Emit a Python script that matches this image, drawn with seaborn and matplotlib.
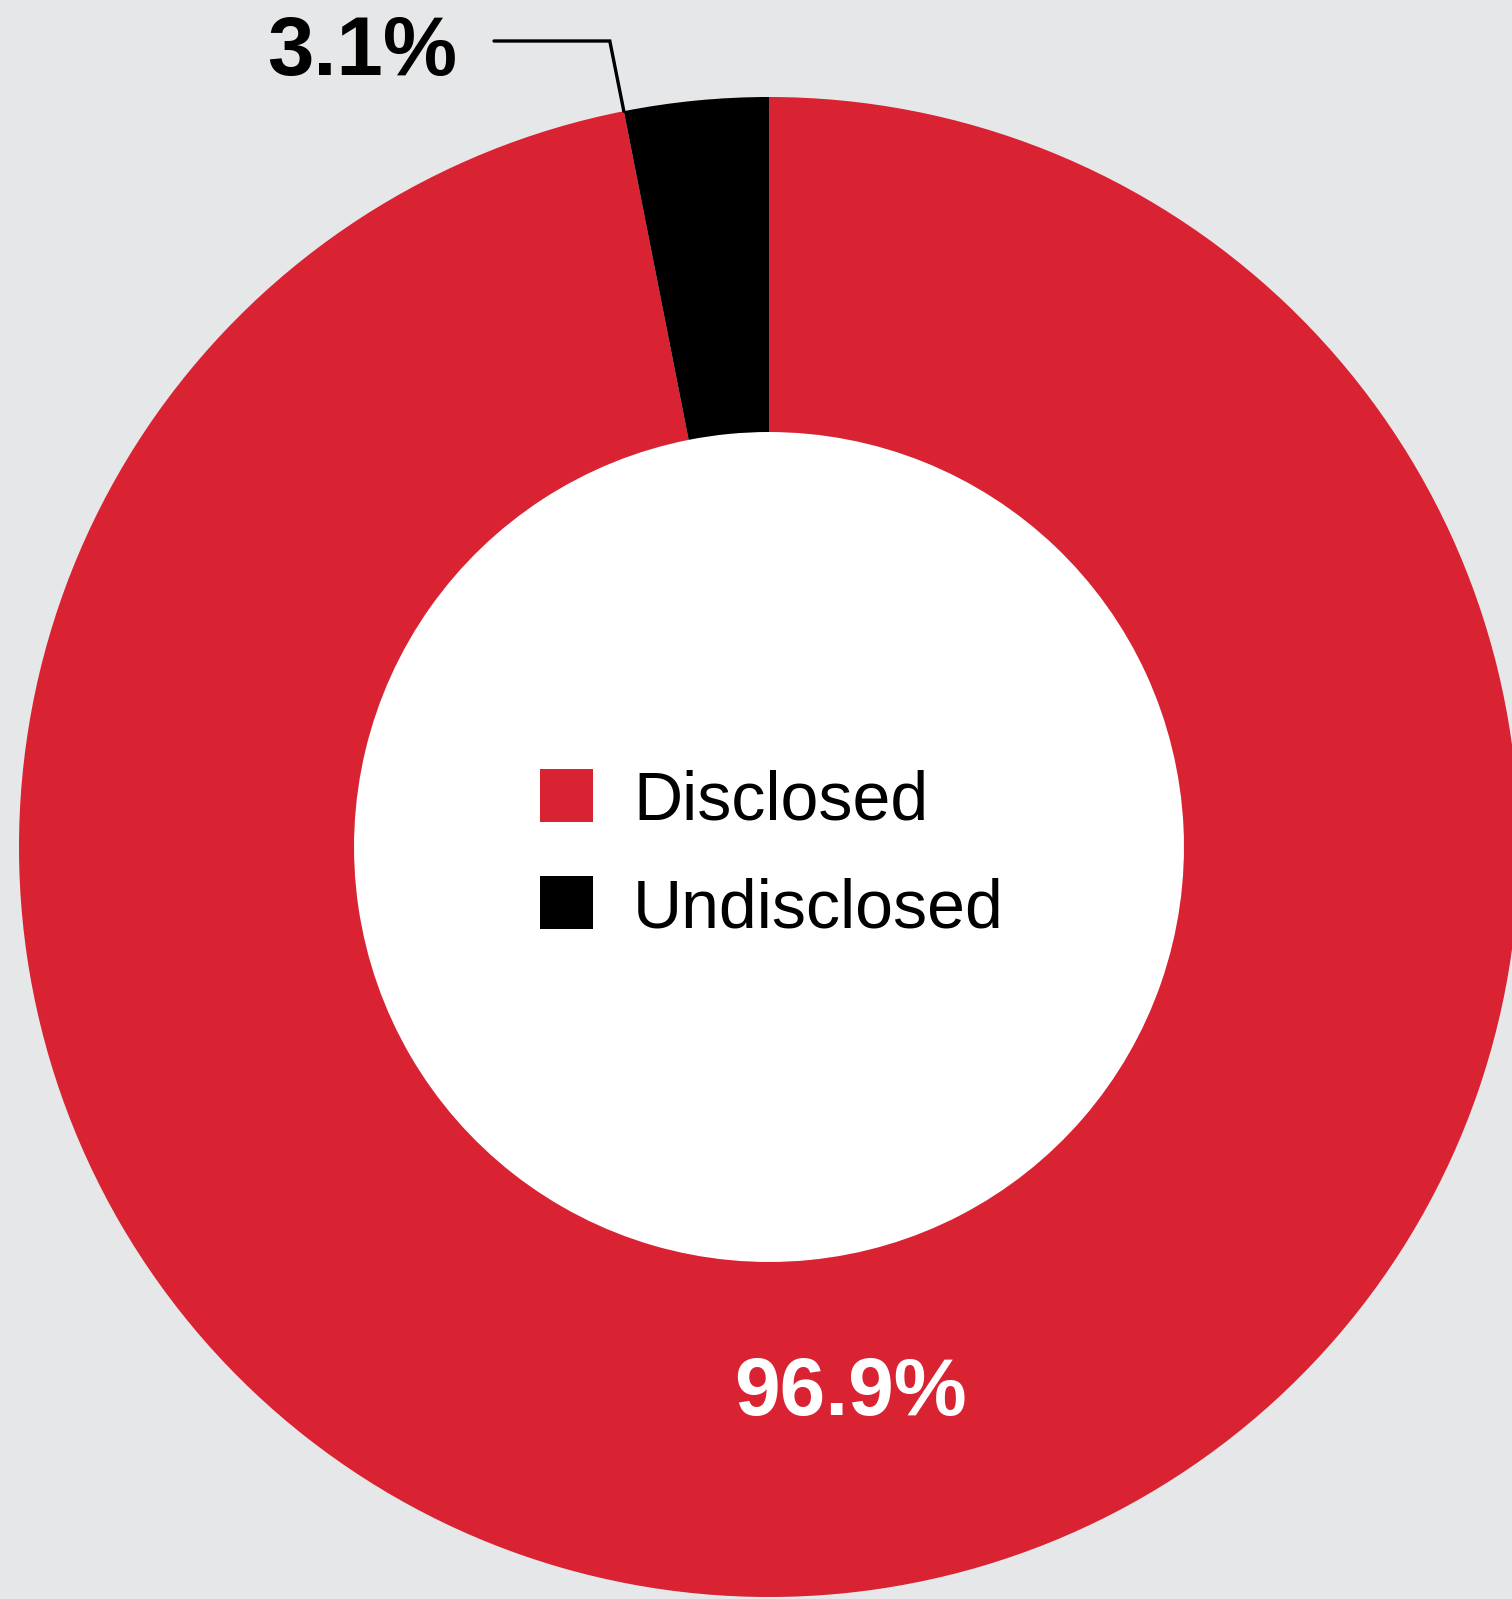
import numpy as np
import matplotlib
matplotlib.use("Agg")
import matplotlib.pyplot as plt
from matplotlib.patches import Rectangle
import seaborn as sns

categories = ["Disclosed", "Undisclosed"]
shares = [96.9, 3.1]
labels = ["96.9%", "3.1%"]
colors = ["#D92232", "#000000"]
bg = "#E6E7E8"

sns.set_theme(style="white")
plt.rcParams['font.family'] = ['Liberation Sans', 'DejaVu Sans']

W, H = 1512, 1599
fig = plt.figure(figsize=(W / 100, H / 100), dpi=100, facecolor=bg)
ax = fig.add_axes([0, 0, 1, 1])
ax.set_facecolor(bg)

cx, cy, R = 769, H - 847, 750
inner = 415
wedges, _ = ax.pie(shares, colors=colors, startangle=90, counterclock=False,
                   center=(cx, cy), radius=R, frame=True,
                   wedgeprops=dict(width=R - inner, linewidth=0))
ax.add_patch(plt.Circle((cx, cy), inner, color="white", zorder=0.5, lw=0))
ax.set_xlim(0, W)
ax.set_ylim(0, H)
ax.set_aspect('equal')
ax.axis('off')

# leader line for the small wedge (start at boundary between wedges, outer edge)
ang = np.deg2rad(90 + 360 * shares[1] / 100.0)
sx, sy = cx + R * np.cos(ang), cy + R * np.sin(ang)
ky = H - 41
kx = sx - 0.2 * (ky - sy)
ax.plot([sx, kx, 494], [sy, ky, ky], color="black", lw=2.4,
        solid_joinstyle='miter', zorder=3)
ax.text(457, H - 75, labels[1], ha='right', va='baseline', fontsize=60,
        fontweight='bold', color='black')

# big wedge label
ax.text(850, H - 1415, labels[0], ha='center', va='baseline', fontsize=59,
        fontweight='bold', color='white')

# legend in the hole
for i, (cat, col) in enumerate(zip(categories, colors)):
    top = 769 + i * 107
    ax.add_patch(Rectangle((540, H - (top + 53)), 53, 53, color=col, lw=0, zorder=3))
    ax.text(633, H - (top + 51), cat, ha='left', va='baseline', fontsize=49,
            color='black')

fig.savefig("out.png", dpi=100, facecolor=bg)
